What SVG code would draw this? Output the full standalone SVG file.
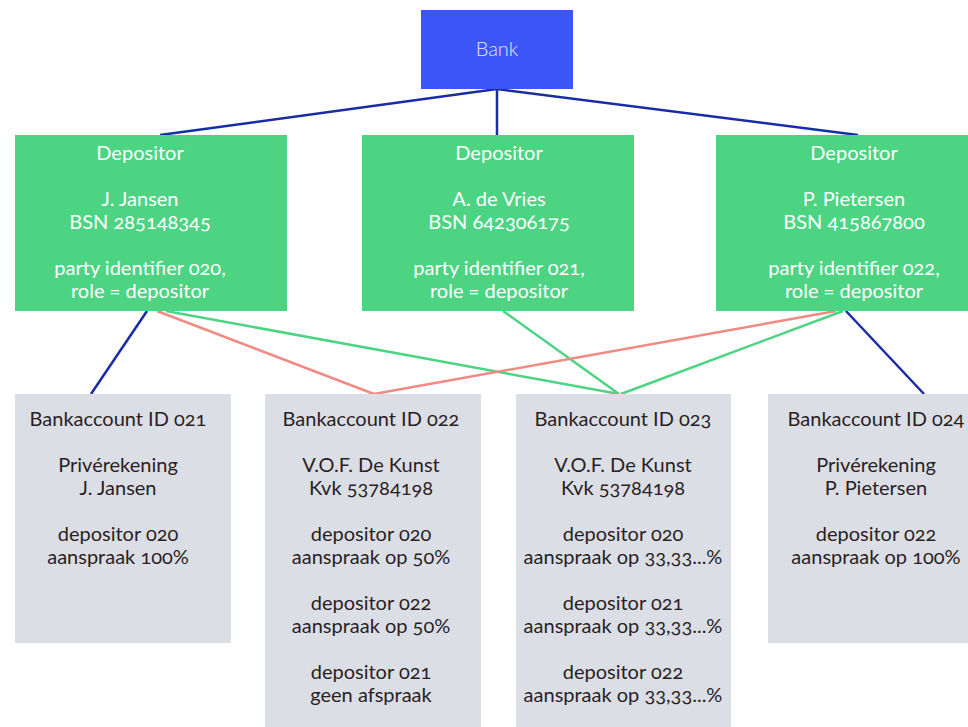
<svg xmlns="http://www.w3.org/2000/svg" width="968" height="727" viewBox="0 0 968 727">
<style>
text{font-family:Lato,"Open Sans","Liberation Sans",sans-serif;font-size:20px;text-anchor:middle;font-variant-numeric:oldstyle-nums;}
.bank{fill:#3c55f7}
.dep{fill:#4cd483}
.acc{fill:#dcdee5}
.tb{fill:#e4e6ff;font-weight:300}
.tw{fill:#ffffff}
.td{fill:#2a1f24}
.lb{stroke:#1a2ba8;stroke-width:2.5;fill:none}
.lr{stroke:#f08a82;stroke-width:2.5;fill:none}
.lg{stroke:#4cd483;stroke-width:2.5;fill:none}
</style>
<g id="connectors">
<line class="lb" x1="497" y1="89" x2="160" y2="135"/>
<line class="lb" x1="497" y1="89" x2="497" y2="135"/>
<line class="lb" x1="497" y1="89" x2="858" y2="135"/>
<line class="lb" x1="147" y1="311" x2="91" y2="394"/>
<line class="lr" x1="157" y1="311" x2="374" y2="394"/>
<line class="lg" x1="166" y1="311" x2="619" y2="394"/>
<line class="lg" x1="503" y1="311" x2="619" y2="394"/>
<line class="lr" x1="836" y1="311" x2="374" y2="394"/>
<line class="lg" x1="843" y1="311" x2="621" y2="394"/>
<line class="lb" x1="846" y1="311" x2="924" y2="394"/>
</g>
<g id="bank">
<rect class="bank" x="421" y="10" width="152" height="79"/>
<text class="tb" x="497" y="56">Bank</text>
</g>
<g id="depositor1">
<rect class="dep" x="15" y="135" width="272" height="176"/>
<text class="tw" x="140" y="160">Depositor</text>
<text class="tw" x="140" y="206">J. Jansen</text>
<text class="tw" x="140" y="229">BSN 285148345</text>
<text class="tw" x="140" y="275">party identifier 020,</text>
<text class="tw" x="140" y="298">role = depositor</text>
</g>
<g id="depositor2">
<rect class="dep" x="362" y="135" width="272" height="176"/>
<text class="tw" x="499" y="160">Depositor</text>
<text class="tw" x="499" y="206">A. de Vries</text>
<text class="tw" x="499" y="229">BSN 642306175</text>
<text class="tw" x="499" y="275">party identifier 021,</text>
<text class="tw" x="499" y="298">role = depositor</text>
</g>
<g id="depositor3">
<rect class="dep" x="716" y="135" width="272" height="176"/>
<text class="tw" x="854" y="160">Depositor</text>
<text class="tw" x="854" y="206">P. Pietersen</text>
<text class="tw" x="854" y="229">BSN 415867800</text>
<text class="tw" x="854" y="275">party identifier 022,</text>
<text class="tw" x="854" y="298">role = depositor</text>
</g>
<g id="account021">
<rect class="acc" x="15" y="394" width="216" height="249"/>
<text class="td" x="118" y="426">Bankaccount ID 021</text>
<text class="td" x="118" y="472">Privérekening</text>
<text class="td" x="118" y="495">J. Jansen</text>
<text class="td" x="118" y="541">depositor 020</text>
<text class="td" x="118" y="564">aanspraak 100%</text>
</g>
<g id="account022">
<rect class="acc" x="265" y="394" width="216" height="340"/>
<text class="td" x="371" y="426">Bankaccount ID 022</text>
<text class="td" x="371" y="472">V.O.F. De Kunst</text>
<text class="td" x="371" y="495">Kvk 53784198</text>
<text class="td" x="371" y="541">depositor 020</text>
<text class="td" x="371" y="564">aanspraak op 50%</text>
<text class="td" x="371" y="610">depositor 022</text>
<text class="td" x="371" y="633">aanspraak op 50%</text>
<text class="td" x="371" y="679">depositor 021</text>
<text class="td" x="371" y="702">geen afspraak</text>
</g>
<g id="account023">
<rect class="acc" x="516" y="394" width="215" height="340"/>
<text class="td" x="623" y="426">Bankaccount ID 023</text>
<text class="td" x="623" y="472">V.O.F. De Kunst</text>
<text class="td" x="623" y="495">Kvk 53784198</text>
<text class="td" x="623" y="541">depositor 020</text>
<text class="td" x="623" y="564">aanspraak op 33,33...%</text>
<text class="td" x="623" y="610">depositor 021</text>
<text class="td" x="623" y="633">aanspraak op 33,33...%</text>
<text class="td" x="623" y="679">depositor 022</text>
<text class="td" x="623" y="702">aanspraak op 33,33...%</text>
</g>
<g id="account024">
<rect class="acc" x="768" y="394" width="216" height="249"/>
<text class="td" x="876" y="426">Bankaccount ID 024</text>
<text class="td" x="876" y="472">Privérekening</text>
<text class="td" x="876" y="495">P. Pietersen</text>
<text class="td" x="876" y="541">depositor 022</text>
<text class="td" x="876" y="564">aanspraak op 100%</text>
</g>
</svg>
